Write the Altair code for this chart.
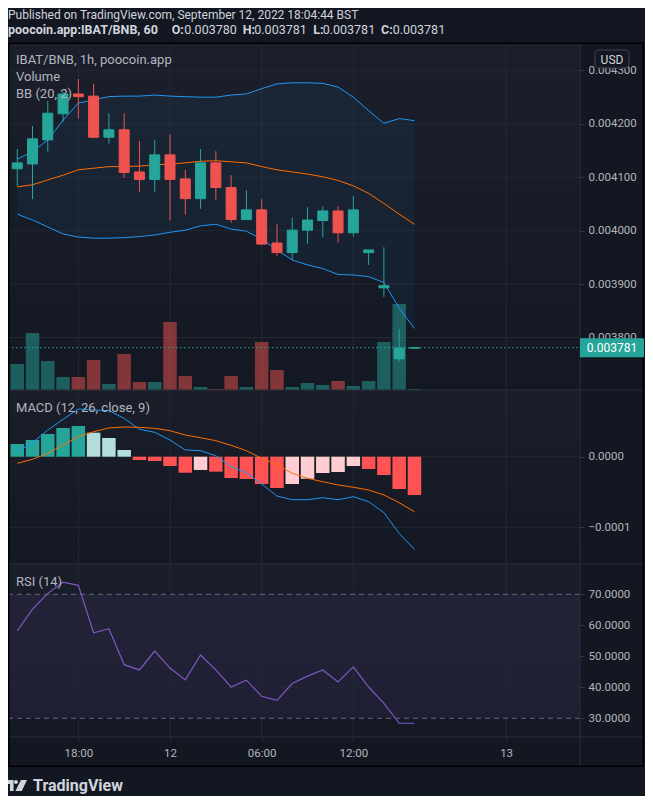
import altair as alt
import pandas as pd

FONT = "Roboto"

# ---------------- data ----------------
opens = [0.004116, 0.004125, 0.004170, 0.004219, 0.004256, 0.004252, 0.004175, 0.004189, 0.004110,
         0.004096, 0.004142, 0.004097, 0.004060, 0.004127, 0.004081, 0.004021, 0.004039, 0.003977,
         0.003959, 0.004001, 0.004019, 0.004037, 0.003996, 0.003959, 0.003893, 0.003760, 0.003780]
closes = [0.004127, 0.004172, 0.004220, 0.004256, 0.004251, 0.004175, 0.004189, 0.004109, 0.004096,
          0.004142, 0.004096, 0.004060, 0.004127, 0.004081, 0.004021, 0.004039, 0.003975, 0.003959,
          0.004001, 0.004020, 0.004037, 0.003996, 0.004039, 0.003964, 0.003897, 0.003780, 0.003781]
highs = [0.004153, 0.004196, 0.004243, 0.004260, 0.004284, 0.004275, 0.004220, 0.004220, 0.004168,
         0.004170, 0.004181, 0.004114, 0.004153, 0.004149, 0.004104, 0.004076, 0.004059, 0.004013,
         0.004024, 0.004044, 0.004046, 0.004046, 0.004065, 0.003964, 0.003969, 0.003816, 0.003781]
lows = [0.004084, 0.004059, 0.004148, 0.004204, 0.004210, 0.004174, 0.004163, 0.004099, 0.004073,
        0.004073, 0.004019, 0.004030, 0.004041, 0.004058, 0.004015, 0.004020, 0.003973, 0.003953,
        0.003945, 0.003976, 0.003987, 0.003978, 0.003989, 0.003936, 0.003876, 0.003755, 0.003780]
volumes = [26, 57, 29, 13, 13, 30, 6, 36, 8, 8, 68, 14, 3, 1, 14, 3, 48, 20, 3, 7, 5, 9, 4, 9, 48, 86, 1]

bb_upper = [0.004134, 0.004148, 0.004170, 0.004207, 0.004239, 0.004245, 0.004251, 0.004252, 0.004252,
            0.004254, 0.004252, 0.004251, 0.004250, 0.004250, 0.004254, 0.004256, 0.004266, 0.004275,
            0.004277, 0.004277, 0.004276, 0.004269, 0.004250, 0.004225, 0.004201, 0.004210, 0.004206]
bb_basis = [0.004082, 0.004086, 0.004095, 0.004104, 0.004114, 0.004117, 0.004120, 0.004120, 0.004121,
            0.004123, 0.004125, 0.004127, 0.004130, 0.004131, 0.004129, 0.004127, 0.004120, 0.004114,
            0.004110, 0.004106, 0.004101, 0.004094, 0.004084, 0.004070, 0.004051, 0.004031, 0.004012]
bb_lower = [0.004031, 0.004020, 0.004007, 0.003994, 0.003988, 0.003986, 0.003986, 0.003987, 0.003989,
            0.003992, 0.003997, 0.004001, 0.004009, 0.004012, 0.004003, 0.003999, 0.003984, 0.003964,
            0.003945, 0.003936, 0.003929, 0.003918, 0.003917, 0.003914, 0.003903, 0.003855, 0.003817]

macd_line = [0.0000067, 0.0000198, 0.0000378, 0.0000529, 0.0000675, 0.0000661, 0.0000652, 0.0000543,
             0.0000388, 0.0000345, 0.0000236, 0.0000095, 0.0000085, 0.0000014, -0.0000142, -0.0000227,
             -0.0000387, -0.0000557, -0.0000609, -0.0000609, -0.0000581, -0.0000609, -0.0000567,
             -0.0000637, -0.0000793, -0.0001085, -0.0001312]
signal_line = [-0.0000094, -0.0000037, 0.0000048, 0.0000166, 0.0000283, 0.0000354, 0.0000407, 0.0000421,
               0.0000416, 0.0000402, 0.0000368, 0.0000307, 0.0000269, 0.0000227, 0.0000161, 0.0000085,
               -0.0000023, -0.0000113, -0.0000235, -0.0000306, -0.0000354, -0.0000401, -0.0000433,
               -0.0000472, -0.0000542, -0.0000652, -0.0000779]
hist = [0.0000180, 0.0000237, 0.0000322, 0.0000407, 0.0000435, 0.0000340, 0.0000265, 0.0000095,
        -0.0000047, -0.0000061, -0.0000132, -0.0000227, -0.0000188, -0.0000212, -0.0000302, -0.0000316,
        -0.0000387, -0.0000443, -0.0000387, -0.0000312, -0.0000231, -0.0000217, -0.0000132, -0.0000174,
        -0.0000259, -0.0000458, -0.0000543]
rsi = [58.2, 65.2, 70.3, 73.9, 72.9, 57.6, 58.9, 47.3, 45.6, 51.7, 46.2, 42.4, 50.4, 45.6, 40.1, 42.3,
       37.1, 35.8, 41.2, 43.6, 45.6, 41.7, 46.6, 40.1, 34.8, 28.4, 28.4]

price_ticks = [0.0038, 0.0039, 0.0040, 0.0041, 0.0042, 0.0043]
macd_ticks = [0.0, -0.0001]
rsi_ticks = [30, 40, 50, 60, 70]
rsi_grid = [40, 50, 60]
rsi_levels = [70, 30]
time_pos = [4, 10, 16, 22, 32]
time_labels = ["18:00", "12", "06:00", "12:00", "13"]
last_price = closes[-1]

# ---------------- table ----------------
n = len(opens)
df = pd.DataFrame({
    "i": list(range(n)), "open": opens, "high": highs, "low": lows, "close": closes,
    "volume": volumes, "bb_up": bb_upper, "bb_mid": bb_basis, "bb_lo": bb_lower,
    "macd": macd_line, "signal": signal_line, "hist": hist, "rsi": rsi,
})
df["dir"] = ["up" if c >= o else "down" for o, c in zip(opens, closes)]
cats = []
for k, h in enumerate(hist):
    prev = hist[k - 1] if k else None
    if h >= 0:
        cats.append("pos_up" if prev is None or h >= prev else "pos_down")
    else:
        cats.append("neg_down" if prev is None or h <= prev else "neg_up")
df["hcat"] = cats

# ---------------- layout (pixels) ----------------
W, H = 572, 693
FR = 636          # right edge of frame
FB = 723          # bottom edge of frame
BG = "#131722"
GRID = "#242833"
SEP = "#2a2e39"
LBL = "#b2b5be"
TXT = "#d1d4dc"

xscale = alt.Scale(domain=[-0.2765, 36.508], nice=False, zero=False)
pscale = alt.Scale(domain=[0.0037017, 0.0043496], range=[346, 0], nice=False, zero=False)
vscale = alt.Scale(domain=[0, 346], range=[346, 0], nice=False)
mscale = alt.Scale(domain=[-0.00015198, 0.00009447], range=[520, 346], nice=False, zero=False)
rscale = alt.Scale(domain=[23.97, 79.77], range=[693, 520], nice=False, zero=False)
dir_scale = alt.Scale(domain=["up", "down"], range=["#26a69a", "#ef5350"])
hist_scale = alt.Scale(domain=["pos_up", "pos_down", "neg_up", "neg_down"],
                       range=["#26a69a", "#b2dfdb", "#ffcdd2", "#ff5252"])

label_expr = " : ".join(f"datum.value == {p} ? '{t}'" for p, t in zip(time_pos, time_labels)) + " : ''"
xaxis = alt.Axis(values=time_pos, labelExpr=label_expr, title=None, grid=False, domain=False,
                 tickSize=4, tickColor=SEP, labelColor=LBL, labelFont=FONT, labelFontSize=11.5,
                 labelPadding=6, labelFlush=False, labelOverlap=False)
X = alt.X("i:Q", scale=xscale, axis=xaxis)


def yaxis(vals, fmt):
    return alt.Axis(orient="right", values=vals, format=fmt, title=None, grid=False, domain=False,
                    tickSize=4, tickColor="#363a45", labelColor=LBL, labelFont=FONT,
                    labelFontSize=11.5, labelPadding=4, labelFlush=False, labelOverlap=False)


def one():
    return alt.Chart(pd.DataFrame({"k": [0]}))


def grad(top, bottom):
    return {"gradient": "linear", "x1": 0, "x2": 0, "y1": 0, "y2": 1,
            "stops": [{"offset": 0, "color": top}, {"offset": 1, "color": bottom}]}


def bgrect(y0, y1, fill, x0=0, x1=W):
    return one().mark_rect(fill=fill).encode(x=alt.value(x0), x2=alt.value(x1),
                                              y=alt.value(y0), y2=alt.value(y1))


def hline(y, x0, x1, color, w=1.0):
    return one().mark_rule(color=color, strokeWidth=w).encode(
        x=alt.value(x0), x2=alt.value(x1), y=alt.value(y))


def vline(x, y0, y1, color, w=1.0):
    return one().mark_rule(color=color, strokeWidth=w).encode(
        x=alt.value(x), y=alt.value(y0), y2=alt.value(y1))


def txt(s, x, y, size=12.5, color=TXT, weight="normal", align="left", baseline="alphabetic"):
    return alt.Chart(pd.DataFrame({"t": [s]})).mark_text(
        font=FONT, fontSize=size, color=color, fontWeight=weight, align=align, baseline=baseline
    ).encode(x=alt.value(x), y=alt.value(y), text="t:N")


layers = []

# backgrounds (plot area only, so the axes stay visible)
layers.append(bgrect(0, 346, grad("#1b1f2b", "#141823")))
layers.append(bgrect(346, 520, grad("#1a1e2a", "#141823")))
layers.append(bgrect(520, 693, grad("#1a1e2a", "#141823")))

# RSI band
layers.append(one().mark_rect(color="#7e57c2", opacity=0.1).encode(
    x=alt.value(0), x2=alt.value(W),
    y=alt.YDatum(70, scale=rscale, axis=None), y2=alt.Y2Datum(30)))

# vertical grid (hosts x axis)
layers.append(alt.Chart(pd.DataFrame({"i": time_pos})).mark_rule(color=GRID, strokeWidth=1).encode(
    x=X, y=alt.value(0), y2=alt.value(H)))

# horizontal grids (host y axes)
layers.append(alt.Chart(pd.DataFrame({"v": price_ticks})).mark_rule(color=GRID, strokeWidth=1).encode(
    y=alt.Y("v:Q", scale=pscale, axis=yaxis(price_ticks, ".6f")), x=alt.value(0), x2=alt.value(W)))
layers.append(alt.Chart(pd.DataFrame({"v": macd_ticks})).mark_rule(color=GRID, strokeWidth=1).encode(
    y=alt.Y("v:Q", scale=mscale, axis=yaxis(macd_ticks, ".4f")), x=alt.value(0), x2=alt.value(W)))
layers.append(alt.Chart(pd.DataFrame({"v": rsi_ticks})).mark_rule(opacity=0).encode(
    y=alt.Y("v:Q", scale=rscale, axis=yaxis(rsi_ticks, ".4f")), x=alt.value(0), x2=alt.value(W)))
layers.append(alt.Chart(pd.DataFrame({"v": rsi_grid})).mark_rule(color=GRID, strokeWidth=1).encode(
    y=alt.Y("v:Q", scale=rscale, axis=None), x=alt.value(0), x2=alt.value(W)))

base = alt.Chart(df)

# volume
layers.append(base.mark_bar(size=13.5, opacity=0.5).encode(
    x=X, y=alt.Y("volume:Q", scale=vscale, axis=None),
    color=alt.Color("dir:N", scale=dir_scale, legend=None)))

# Bollinger bands
layers.append(base.mark_area(color="#2196f3", opacity=0.06).encode(
    x=X, y=alt.Y("bb_up:Q", scale=pscale, axis=None), y2="bb_lo:Q"))
layers.append(base.mark_line(color="#2196f3", strokeWidth=1).encode(
    x=X, y=alt.Y("bb_up:Q", scale=pscale, axis=None)))
layers.append(base.mark_line(color="#2196f3", strokeWidth=1).encode(
    x=X, y=alt.Y("bb_lo:Q", scale=pscale, axis=None)))
layers.append(base.mark_line(color="#ff6d00", strokeWidth=1).encode(
    x=X, y=alt.Y("bb_mid:Q", scale=pscale, axis=None)))

# candles
layers.append(base.mark_rule(strokeWidth=1).encode(
    x=X, y=alt.Y("low:Q", scale=pscale, axis=None), y2="high:Q",
    color=alt.Color("dir:N", scale=dir_scale, legend=None)))
layers.append(base.mark_bar(size=10, strokeWidth=1).encode(
    x=X, y=alt.Y("open:Q", scale=pscale, axis=None), y2="close:Q",
    color=alt.Color("dir:N", scale=dir_scale, legend=None),
    stroke=alt.Stroke("dir:N", scale=dir_scale, legend=None)))

# last price dotted line
layers.append(one().mark_rule(color="#26a69a", strokeWidth=1, strokeDash=[1.5, 2.5]).encode(
    x=alt.value(0), x2=alt.value(W), y=alt.YDatum(last_price, scale=pscale, axis=None)))

# MACD
layers.append(base.mark_bar(size=13.5).encode(
    x=X, y=alt.Y("hist:Q", scale=mscale, axis=None),
    color=alt.Color("hcat:N", scale=hist_scale, legend=None)))
layers.append(base.mark_line(color="#2196f3", strokeWidth=1).encode(
    x=X, y=alt.Y("macd:Q", scale=mscale, axis=None)))
layers.append(base.mark_line(color="#ff6d00", strokeWidth=1).encode(
    x=X, y=alt.Y("signal:Q", scale=mscale, axis=None)))

# RSI
layers.append(alt.Chart(pd.DataFrame({"v": rsi_levels})).mark_rule(
    color="#787b86", strokeWidth=1, strokeDash=[5, 4], opacity=0.8).encode(
    y=alt.Y("v:Q", scale=rscale, axis=None), x=alt.value(0), x2=alt.value(W)))
layers.append(base.mark_line(color="#7e57c2", strokeWidth=1.2).encode(
    x=X, y=alt.Y("rsi:Q", scale=rscale, axis=None)))

# separators and frame
layers.append(hline(346, 0, FR, SEP))
layers.append(hline(520, 0, FR, SEP))
layers.append(hline(H, 0, FR, SEP))
layers.append(vline(W, 0, FB, SEP))
layers.append(one().mark_rect(fillOpacity=0, stroke="#000000", strokeWidth=1.5).encode(
    x=alt.value(0.75), x2=alt.value(FR - 0.75), y=alt.value(-0.75), y2=alt.value(FB - 0.75)))

# USD box
layers.append(one().mark_rect(fill=BG, stroke="#434651", strokeWidth=1, cornerRadius=4).encode(
    x=alt.value(587), x2=alt.value(621), y=alt.value(6), y2=alt.value(24)))
layers.append(txt("USD", 604, 15.5, size=12, align="center", baseline="middle"))

# last price label
box_path = "M-1.684,-0.5H1.684V0.5H-1.684Z"
layers.append(alt.Chart(pd.DataFrame({"p": [last_price]})).mark_point(
    shape=box_path, filled=True, size=1444, opacity=1, color="#26a69a", strokeWidth=0).encode(
    x=alt.value(604), y=alt.Y("p:Q", scale=pscale, axis=None)))
layers.append(alt.Chart(pd.DataFrame({"p": [last_price], "t": [f"{last_price:.6f}"]})).mark_text(
    font=FONT, fontSize=12, color="#ffffff", align="center", baseline="middle").encode(
    x=alt.value(604), y=alt.Y("p:Q", scale=pscale, axis=None), text="t:N"))

# pane legends
layers.append(txt("IBAT/BNB, 1h, poocoin.app", 8, 20, size=13, color=LBL))
layers.append(txt("Volume", 8, 37, size=13, color=LBL))
layers.append(txt("BB (20, 2)", 8, 54, size=13, color=LBL))
layers.append(txt("MACD (12, 26, close, 9)", 8, 368, size=13, color=LBL))
layers.append(txt("RSI (14)", 8, 542, size=13, color=LBL))

# header
layers.append(txt("Published on TradingView.com, September 12, 2022 18:04:44 BST", 0, -25.5, size=12))
hdr = [("poocoin.app:IBAT/BNB, 60", 0, "bold"), ("O:", 163.7, "bold"), ("0.003780", 176.3, "normal"),
       ("H:", 234.7, "bold"), ("0.003781", 246.3, "normal"), ("L:", 305.3, "bold"),
       ("0.003781", 314.7, "normal"), ("C:", 373, "bold"), ("0.003781", 384.7, "normal")]
for s, x, w in hdr:
    layers.append(txt(s, x, -10, size=12.5, weight=w))

# footer logo
logo = ("M-1,-0.52H-0.28V0.52H-0.62V-0.14H-1Z "
        "M-0.24,-0.33A0.19,0.19 0 1,0 0.14,-0.33A0.19,0.19 0 1,0 -0.24,-0.33Z "
        "M0.42,-0.52H1L0.5,0.52H-0.1Z")
layers.append(one().mark_point(shape=logo, filled=True, size=441, opacity=1, color=TXT,
                               strokeWidth=0).encode(x=alt.value(8.5), y=alt.value(741.5)))
layers.append(txt("TradingView", 25, 746.5, size=16, weight="bold"))

chart = alt.layer(*layers).resolve_scale(
    y="independent", color="independent", stroke="independent"
).properties(
    width=W, height=H,
    padding={"left": 0, "top": 36, "right": 65, "bottom": 59},
    autosize=alt.AutoSizeParams(type="none"),
    background=BG,
).configure_view(stroke=None)

chart.save("out.html", embed_options={"renderer": "svg", "actions": False})
